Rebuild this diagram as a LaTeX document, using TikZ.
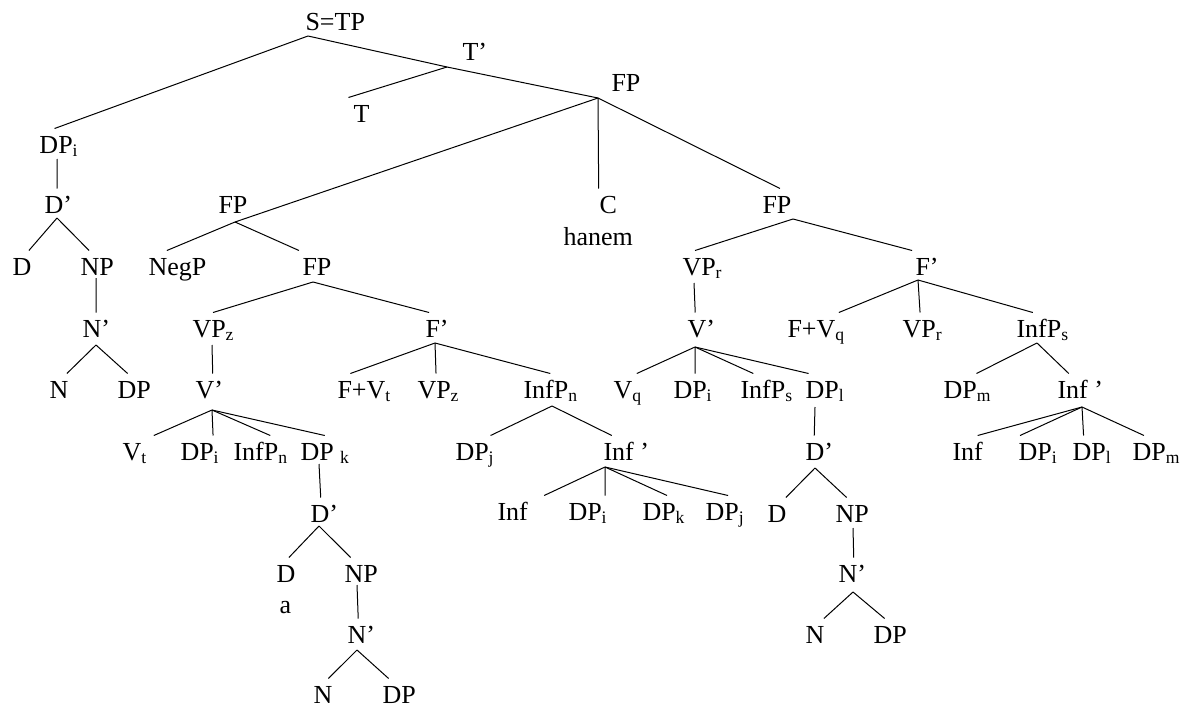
\documentclass[tikz,border=0pt]{standalone}
\usepackage{fontspec}
\setmainfont{Liberation Serif}
\usetikzlibrary{calc}
\newcommand{\sbs}[1]{\raisebox{-1.8pt}{\fontsize{8.8}{9}\selectfont #1}}

\begin{document}
\begin{tikzpicture}[x=0.5pt, y=-0.5pt, line width=0.5pt,
  lbl/.style={anchor=base west, inner xsep=0pt, inner ysep=3.3pt, text height=8.7pt, text depth=0pt, font=\fontsize{13}{15}\selectfont}]
\useasboundingbox (0,0) rectangle (1186,706);
% labels
\node[lbl] (stp) at (305,31) {S=TP};
\node[lbl] (tbar) at (462,61) {T’};
\node[lbl] (fptop) at (611,91) {FP};
\node[lbl] (t) at (353,122) {T};
\node[lbl] (dpiA) at (39,153) {DP\sbs{i}};
\node[lbl] (dbarA) at (44,213) {D’};
\node[lbl] (fpneg) at (218,213) {FP};
\node[lbl] (c) at (599,213) {C};
\node[lbl] (hanem) at (563,245) {hanem};
\node[lbl] (fpright) at (762,213) {FP};
\node[lbl] (dA) at (12,275) {D};
\node[lbl] (npA) at (80,275) {NP};
\node[lbl] (negp) at (148,275) {NegP};
\node[lbl] (fpmid) at (302,275) {FP};
\node[lbl] (vprA) at (682,275) {VP\sbs{r}};
\node[lbl] (fbarB) at (915,275) {F’};
\node[lbl] (nbarA) at (82,337) {N’};
\node[lbl] (vpzA) at (192,337) {VP\sbs{z}};
\node[lbl] (fbarA) at (425,337) {F’};
\node[lbl] (vbarB) at (687,337) {V’};
\node[lbl] (fvq) at (787,337) {F+V\sbs{q}};
\node[lbl] (vprB) at (902,337) {VP\sbs{r}};
\node[lbl] (infpsA) at (1016,337) {InfP\sbs{s}};
\node[lbl] (nA) at (49,398) {N};
\node[lbl] (dpA) at (117,398) {DP};
\node[lbl] (vbarA) at (195,398) {V’};
\node[lbl] (fvt) at (337,398) {F+V\sbs{t}};
\node[lbl] (vpzB) at (417,398) {VP\sbs{z}};
\node[lbl] (infpnA) at (523,398) {InfP\sbs{n}};
\node[lbl] (vq) at (613,398) {V\sbs{q}};
\node[lbl] (dpiB) at (673,398) {DP\sbs{i}};
\node[lbl] (infpsB) at (740,398) {InfP\sbs{s}};
\node[lbl] (dplA) at (805,398) {DP\sbs{l}};
\node[lbl] (dpmA) at (943,398) {DP\sbs{m}};
\node[lbl] (infbarB) at (1057,398) {Inf ’};
\node[lbl] (vt) at (122,460) {V\sbs{t}};
\node[lbl] (dpiC) at (180,460) {DP\sbs{i}};
\node[lbl] (infpnB) at (233,460) {InfP\sbs{n}};
\node[lbl] (dpkA) at (300,460) {DP \sbs{k}};
\node[lbl] (dpjA) at (455,460) {DP\sbs{j}};
\node[lbl] (infbarA) at (603,460) {Inf ’};
\node[lbl] (dbarC) at (805,460) {D’};
\node[lbl] (infB) at (952,460) {Inf};
\node[lbl] (dpiE) at (1018,460) {DP\sbs{i}};
\node[lbl] (dplB) at (1072,460) {DP\sbs{l}};
\node[lbl] (dpmB) at (1132,460) {DP\sbs{m}};
\node[lbl] (infA) at (497,520) {Inf};
\node[lbl] (dpiD) at (568,520) {DP\sbs{i}};
\node[lbl] (dpkB) at (642,520) {DP\sbs{k}};
\node[lbl] (dpjB) at (705,520) {DP\sbs{j}};
\node[lbl] (dbarB) at (310,522) {D’};
\node[lbl] (dC) at (767,522) {D};
\node[lbl] (npC) at (835,522) {NP};
\node[lbl] (dB) at (276,582) {D};
\node[lbl] (npB) at (344,582) {NP};
\node[lbl] (nbarC) at (838,582) {N’};
\node[lbl] (a) at (279,613) {a};
\node[lbl] (nbarB) at (347,643) {N’};
\node[lbl] (nC) at (805,643) {N};
\node[lbl] (dpC) at (873,643) {DP};
\node[lbl] (nB) at (313,703) {N};
\node[lbl] (dpB) at (382,703) {DP};
% branch points
\coordinate (jS) at (308,36);
\coordinate (jT) at (447,67);
\coordinate (jFP) at (598,98);
\coordinate (jFPneg) at (235,222);
\coordinate (jDPiA) at (57,159);
\coordinate (jDA) at (57,218);
\coordinate (jNPA) at (96,278);
\coordinate (jNA) at (96,345);
\coordinate (jFPmid) at (313,282);
\coordinate (jVPz) at (212,345);
\coordinate (jVA) at (212,410);
\coordinate (jFA) at (435,343);
\coordinate (jInfPn) at (552,406);
\coordinate (jInfA) at (605,467);
\coordinate (jDPk) at (319,464);
\coordinate (jDB) at (319,526);
\coordinate (jNPB) at (357,585);
\coordinate (jNB) at (357,650);
\coordinate (jFPright) at (793,219);
\coordinate (jVPr) at (694,283);
\coordinate (jVB) at (695,347);
\coordinate (jDPl) at (815,407);
\coordinate (jDC) at (815,468);
\coordinate (jNPC) at (853,528);
\coordinate (jNC) at (853,592);
\coordinate (jFB) at (918,280);
\coordinate (jInfPs) at (1037,343);
\coordinate (jInfB) at (1082,407);
% branches
\draw (jS) -- ($(dpiA.north)+(-4,0)$);
\draw (jS) -- (jT) -- (jFP);
\draw (jT) -- ($(t.north)+(-13,0)$);
\draw (jFP) -- (jFPneg);
\draw (jFP) -- ($(c.north)+(-9.5,0)$);
\draw (jFP) -- ($(fpright.north)+(3,0)$);
\draw (jDPiA) -- ($(dbarA.north)+(-1,0)$);
\draw (jDA) -- ($(dA.north)+(7,0)$);
\draw (jDA) -- ($(npA.north)+(-8,0)$);
\draw (jNPA) -- (nbarA.north);
\draw (jNA) -- ($(nA.north)+(8,0)$);
\draw (jNA) -- ($(dpA.north)+(-6.5,0)$);
\draw (jFPneg) -- ($(negp.north)+(-10.5,0)$);
\draw (jFPneg) -- ($(fpmid.north)+(-18,0)$);
\draw (jFPmid) -- (vpzA.north);
\draw (jFPmid) -- ($(fbarA.north)+(-8,0)$);
\draw (jVPz) -- ($(vbarA.north)+(3.5,0)$);
\draw (jVA) -- ($(vt.north)+(19.5,0)$);
\draw (jVA) -- ($(dpiC.north)+(13.5,0)$);
\draw (jVA) -- ($(infpnB.north)+(10,0)$);
\draw (jVA) -- (dpkA.north);
\draw (jDPk) -- ($(dbarB.north)+(-3.5,0)$);
\draw (jDB) -- ($(dB.north)+(3,0)$);
\draw (jDB) -- ($(npB.north)+(-10.5,0)$);
\draw (jNPB) -- ($(nbarB.north)+(-3,0)$);
\draw (jNB) -- ($(nB.north)+(5.5,0)$);
\draw (jNB) -- ($(dpB.north)+(-10.5,0)$);
\draw (jFA) -- ($(fvt.north)+(-13.5,0)$);
\draw (jFA) -- ($(vpzB.north)+(-2,0)$);
\draw (jFA) -- (infpnA.north);
\draw (jInfPn) -- ($(dpjA.north)+(16,0)$);
\draw (jInfPn) -- ($(infbarA.north)+(-14.5,0)$);
\draw (jInfA) -- ($(infA.north)+(31.5,0)$);
\draw (jInfA) -- ($(dpiD.north)+(17.5,0)$);
\draw (jInfA) -- ($(dpkB.north)+(3.5,0)$);
\draw (jInfA) -- ($(dpjB.north)+(3.5,0)$);
\draw (jFPright) -- ($(vprA.north)+(-7,0)$);
\draw (jFPright) -- ($(fbarB.north)+(-15,0)$);
\draw (jVPr) -- ($(vbarB.north)+(-6,0)$);
\draw (jVB) -- ($(vq.north)+(9.5,0)$);
\draw (jVB) -- ($(dpiB.north)+(2.5,0)$);
\draw (jVB) -- ($(infpsB.north)+(-13,0)$);
\draw (jVB) -- ($(dplA.north)+(-16,0)$);
\draw (jDPl) -- ($(dbarC.north)+(-5,0)$);
\draw (jDC) -- ($(dC.north)+(9,0)$);
\draw (jDC) -- ($(npC.north)+(-5.5,0)$);
\draw (jNPC) -- ($(nbarC.north)+(1.5,0)$);
\draw (jNC) -- ($(nC.north)+(9,0)$);
\draw (jNC) -- ($(dpC.north)+(-5.5,0)$);
\draw (jFB) -- ($(fvq.north)+(23,0)$);
\draw (jFB) -- ($(vprB.north)+(-2,0)$);
\draw (jFB) -- ($(infpsA.north)+(-9.5,0)$);
\draw (jInfPs) -- ($(dpmA.north)+(9.5,0)$);
\draw (jInfPs) -- ($(infbarB.north)+(-11.5,0)$);
\draw (jInfB) -- ($(infB.north)+(10,0)$);
\draw (jInfB) -- ($(dpiE.north)+(-17.5,0)$);
\draw (jInfB) -- ($(dplB.north)+(-8,0)$);
\draw (jInfB) -- ($(dpmB.north)+(-12,0)$);
\end{tikzpicture}
\end{document}
